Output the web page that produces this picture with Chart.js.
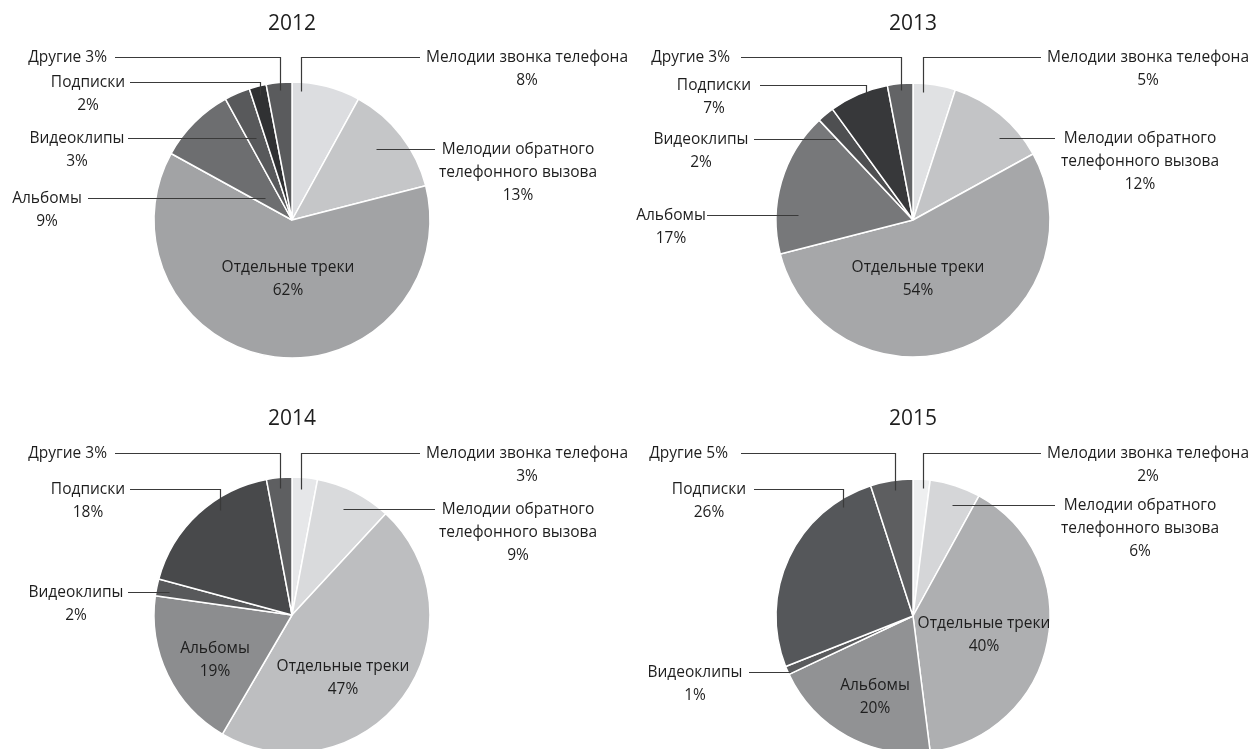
<!DOCTYPE html>
<html>
<head>
<meta charset="utf-8">
<script src="https://cdn.jsdelivr.net/npm/chart.js@4.4.1/dist/chart.umd.min.js"></script>
<style>
    html, body { margin: 0; padding: 0; background: #fff; overflow: hidden; }
    .wrap { position: relative; width: 1254px; height: 749px; overflow: hidden; }
    canvas { position: absolute; left: 0; top: 0; }
</style>
</head>
<body>
<div class="wrap">
    <canvas id="c2012" width="1254" height="800"></canvas>
    <canvas id="c2013" width="1254" height="800"></canvas>
    <canvas id="c2014" width="1254" height="800"></canvas>
    <canvas id="c2015" width="1254" height="800"></canvas>
</div>
<script>
// categories, clockwise from 12 o'clock
var categories = ["Мелодии звонка телефона", "Мелодии обратного телефонного вызова", "Отдельные треки", "Альбомы", "Видеоклипы", "Подписки", "Другие"];
var years = ["2012", "2013", "2014", "2015"];

var values2012 = [8, 13, 62, 9, 3, 2, 3];
var values2013 = [5, 12, 54, 17, 2, 7, 3];
var values2014 = [3, 9, 47, 19, 2, 18, 3];
var values2015 = [2, 6, 40, 20, 1, 26, 5];

// how each category name is broken into lines in the labels
var nameLines = [["Мелодии звонка телефона"], ["Мелодии обратного", "телефонного вызова"], ["Отдельные треки"], ["Альбомы"], ["Видеоклипы"], ["Подписки"], ["Другие"]];

// grey shades per year
var colors2012 = ["#dcdde0", "#c5c6c8", "#a2a3a5", "#6d6e70", "#58595b", "#303133", "#5a5b5d"];
var colors2013 = ["#e0e1e3", "#c3c4c6", "#a6a7a9", "#77787a", "#4e4f51", "#37383a", "#636466"];
var colors2014 = ["#e6e7e9", "#d9dadc", "#bdbec0", "#8c8d8f", "#58595b", "#48494b", "#5e5f61"];
var colors2015 = ["#eeeff0", "#d5d6d8", "#aeafb1", "#919294", "#5a5b5d", "#55575a", "#5d5e60"];

// placement of each pie and of its labels / leader lines (page pixels)
var pies = {
    "2012": { cx: 292, cy: 220, r: 138, ty: 24 },
    "2013": { cx: 913, cy: 220, r: 137, ty: 24 },
    "2014": { cx: 292, cy: 615, r: 138, ty: 419 },
    "2015": { cx: 913, cy: 616, r: 137, ty: 419 }
};

var labelLayout = {
    "2012": [
        { x: 527, y: 58, path: [[420, 57], [301, 57], [301, 91]] },
        { x: 518, y: 150, path: [[435, 149], [376, 149]] },
        { x: 288, y: 268 },
        { x: 47, y: 199, path: [[88, 198], [265, 198]] },
        { x: 77, y: 139, path: [[128, 138], [256, 138]] },
        { x: 88, y: 83, path: [[130, 82], [260, 82], [260, 95]] },
        { x: 107, y: 58, right: true, path: [[115, 57], [280, 57], [280, 90]] }
    ],
    "2013": [
        { x: 1148, y: 58, path: [[1041, 57], [923, 57], [923, 92]] },
        { x: 1140, y: 139, path: [[1055, 138], [999, 138]] },
        { x: 918, y: 268 },
        { x: 671, y: 216, path: [[707, 215], [798, 215]] },
        { x: 701, y: 140, path: [[754, 139], [835, 139]] },
        { x: 714, y: 86, path: [[760, 85], [866, 85], [866, 100]] },
        { x: 730, y: 58, right: true, path: [[741, 57], [901, 57], [901, 90]] }
    ],
    "2014": [
        { x: 527, y: 454, path: [[420, 453], [301, 453], [301, 489]] },
        { x: 518, y: 510, path: [[435, 509], [343, 509]] },
        { x: 343, y: 667 },
        { x: 215, y: 649 },
        { x: 76, y: 593, path: [[128, 592], [169, 592]] },
        { x: 88, y: 490, path: [[130, 489], [220, 489], [220, 510]] },
        { x: 107, y: 454, right: true, path: [[115, 453], [280, 453], [280, 488]] }
    ],
    "2015": [
        { x: 1148, y: 454, path: [[1041, 453], [923, 453], [923, 488]] },
        { x: 1140, y: 506, path: [[1055, 505], [952, 505]] },
        { x: 984, y: 624 },
        { x: 875, y: 686 },
        { x: 695, y: 673, path: [[749, 672], [790, 672]] },
        { x: 709, y: 490, path: [[754, 489], [843, 489], [843, 507]] },
        { x: 728, y: 454, right: true, path: [[741, 453], [895, 453], [895, 490]] }
    ]
};

var FONT = "'Open Sans', sans-serif";
var lineH = 23;

const labelsPlugin = {
    id: "pieLabels",
    afterDraw(chart) {
        const ctx = chart.ctx;
        const year = chart.options.plugins.pieLabels.year;
        const vals = chart.data.datasets[0].data;
        const lay = labelLayout[year];
        const pie = pies[year];
        ctx.save();
        // title
        ctx.fillStyle = "#1e1e1e";
        ctx.font = "21px " + FONT;
        ctx.textAlign = "center";
        ctx.textBaseline = "middle";
        ctx.fillText(year, pie.cx, pie.ty);

        ctx.strokeStyle = "#3a3a3a";
        ctx.lineWidth = 1.2;
        ctx.font = "500 15.5px " + FONT;
        for (let i = 0; i < lay.length; i++) {
            const l = lay[i];
            if (l.path) {
                ctx.beginPath();
                ctx.moveTo(l.path[0][0], l.path[0][1] + 0.5);
                for (let k = 1; k < l.path.length; k++) {
                    ctx.lineTo(l.path[k][0] + 0.5, l.path[k][1] + 0.5);
                }
                ctx.stroke();
            }
            ctx.fillStyle = "#1e1e1e";
            if (l.right) {
                ctx.textAlign = "right";
                ctx.fillText(nameLines[i][0] + " " + vals[i] + "%", l.x, l.y);
            } else {
                ctx.textAlign = "center";
                const lines = nameLines[i].concat([vals[i] + "%"]);
                lines.forEach((t, k) => ctx.fillText(t, l.x, l.y + k * lineH));
            }
        }
        ctx.restore();
    }
};

function makePie(year, values, colors) {
    const p = pies[year];
    const W = 1254, H = 800, a = p.r + 4;
    new Chart("c" + year, {
        type: "pie",
        data: {
            labels: categories,
            datasets: [{
                data: values,
                backgroundColor: colors,
                borderColor: "#ffffff",
                borderWidth: 1.5
            }]
        },
        options: {
            responsive: false,
            animation: false,
            radius: p.r,
            layout: { padding: { left: p.cx - a, right: W - p.cx - a, top: p.cy - a, bottom: H - p.cy - a } },
            plugins: {
                legend: { display: false },
                tooltip: { enabled: false },
                pieLabels: { year: year }
            }
        },
        plugins: [labelsPlugin]
    });
}

makePie("2012", values2012, colors2012);
makePie("2013", values2013, colors2013);
makePie("2014", values2014, colors2014);
makePie("2015", values2015, colors2015);
</script>
</body>
</html>
